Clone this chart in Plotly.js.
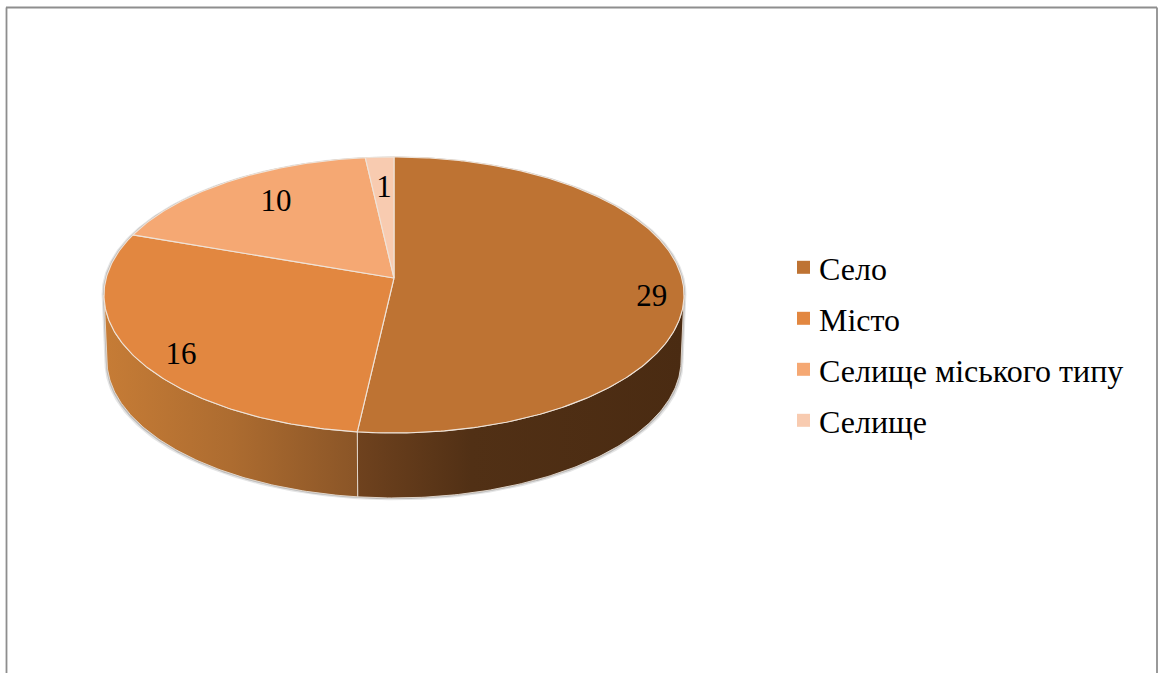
<!DOCTYPE html>
<html><head><meta charset="utf-8">
<script src="https://cdn.plot.ly/plotly-3.0.1.min.js"></script>
<style>html,body{margin:0;padding:0;background:#fff}#c{width:1159px;height:673px}</style>
</head><body><div id="c"></div>
<script>
const categories = ["Село", "Місто", "Селище міського типу", "Селище"];
const values = [29, 16, 10, 1];
const sliceColors = ["#BE7333", "#E28740", "#F5A873", "#F8CBB0"];
const labelFractions = [[0.89, 0.13], [0.867, 0.81], [0.652, 0.865], [0.62, 0.78]];

const W = 1159, H = 673;
// Perspective disc: apex at (CX, APEX_Y), foreshortening K
const CX = 394, APEX_Y = 278, A = 287.8, B = 135.9, K = 0.123, DEPTH = 65, BOTTOM_SCALE = 0.99;
const LABEL_CY = 295, LABEL_RX = 290, LABEL_RY = 138, LABEL_DY = 2;
const SERIF = '"Liberation Serif", serif';
const EDGE = "#EFE3D8";
const rad = d => d * Math.PI / 180;

const total = values.reduce((a, b) => a + b, 0);
const px = d => CX + A * Math.sin(rad(d)) / (1 + K * Math.cos(rad(d)));
const py = d => APEX_Y - B * Math.cos(rad(d)) / (1 + K * Math.cos(rad(d)));
const bx = d => CX + (px(d) - CX) * BOTTOM_SCALE;
const by = d => py(d) + DEPTH;

function sweep(from, to, fx, fy) {
  const n = Math.max(2, Math.ceil(Math.abs(to - from) * 1.5));
  const xs = [], ys = [];
  for (let i = 0; i <= n; i++) {
    const d = from + (to - from) * i / n;
    xs.push(fx(d)); ys.push(fy(d));
  }
  return [xs, ys];
}

const bounds = [0];
values.forEach(v => bounds.push(bounds[bounds.length - 1] + v / total * 360));

const traces = [];

// silhouette tangent angles on the disc
const TANGENT_R = 90 + Math.asin(K) * 180 / Math.PI, TANGENT_L = 360 - TANGENT_R;

// soft shadow around the silhouette
[[2.4, 0.10], [1.2, 0.18]].forEach(([g, alpha]) => {
  const f = 1 + g / 290;
  const [tx, ty] = sweep(TANGENT_L, TANGENT_R + 360, d => CX + (px(d) - CX) * f, d => py(d) - g * 0.3);
  const [lx, ly] = sweep(TANGENT_R, TANGENT_L, d => CX + (bx(d) - CX) * f, d => by(d) + g);
  traces.push({x: tx.concat(lx, [tx[0]]), y: ty.concat(ly, [ty[0]]), mode: "lines", fill: "toself",
    fillcolor: `rgba(0,0,0,${alpha})`, line: {width: 0}, showlegend: false, hoverinfo: "skip"});
});

// side walls
function wall(from, to, scale) {
  const [tx, ty] = sweep(from, to, px, py);
  const [lx, ly] = sweep(to, from, bx, by);
  traces.push({x: tx.concat(lx, [tx[0]]), y: ty.concat(ly, [ty[0]]), mode: "lines", fill: "toself",
    fillgradient: {type: "horizontal", colorscale: scale},
    line: {color: "#E6DCD2", width: 0.9}, showlegend: false, hoverinfo: "skip"});
}
wall(TANGENT_R, bounds[1], [[0, "#6F421E"], [0.35, "#513015"], [1, "#4A2B12"]]);
wall(bounds[1], TANGENT_L, [[0, "#C67C36"], [0.5, "#AD6C30"], [1, "#8A5527"]]);

// top slices
values.forEach((v, i) => {
  const [ax, ay] = sweep(bounds[i], bounds[i + 1], px, py);
  traces.push({x: [CX].concat(ax, [CX]), y: [APEX_Y].concat(ay, [APEX_Y]), mode: "lines", fill: "toself",
    fillcolor: sliceColors[i], line: {color: EDGE, width: 1.1}, showlegend: false, hoverinfo: "skip"});
});

// value labels
traces.push({
  x: values.map((v, i) => CX + LABEL_RX * labelFractions[i][0] * Math.sin(rad((bounds[i] + bounds[i + 1]) / 2))),
  y: values.map((v, i) => LABEL_CY + LABEL_DY - LABEL_RY * labelFractions[i][1] * Math.cos(rad((bounds[i] + bounds[i + 1]) / 2))),
  text: values.map(String), mode: "text", textposition: "middle center",
  textfont: {family: SERIF, size: 31, color: "#000"}, showlegend: false, hoverinfo: "skip"
});

// legend entries
categories.forEach((c, i) => traces.push({
  x: [null], y: [null], name: c, mode: "markers", legendgroup: "g" + i,
  marker: {symbol: "square", size: 13, color: sliceColors[i]}
}));

const layout = {
  width: W, height: H, margin: {l: 0, r: 0, t: 0, b: 0},
  paper_bgcolor: "#fff", plot_bgcolor: "#fff",
  xaxis: {range: [0, W], visible: false, fixedrange: true},
  yaxis: {range: [H, 0], visible: false, fixedrange: true},
  legend: {x: 779 / W, y: 1 - 240 / H, xanchor: "left", yanchor: "top", bgcolor: "rgba(0,0,0,0)",
    font: {family: SERIF, size: 32, color: "#000"}, tracegroupgap: 6.4, itemwidth: 30, traceorder: "grouped"},
  shapes: [
    {type: "line", xref: "paper", yref: "paper", x0: 6.5 / W, x1: 6.5 / W, y0: 0, y1: 1 - 7.5 / H, line: {color: "#8E8E8E", width: 1.8}},
    {type: "line", xref: "paper", yref: "paper", x0: 6 / W, x1: 1157 / W, y0: 1 - 7.5 / H, y1: 1 - 7.5 / H, line: {color: "#8E8E8E", width: 1.8}},
    {type: "line", xref: "paper", yref: "paper", x0: 1157 / W, x1: 1157 / W, y0: 0, y1: 1 - 7.5 / H, line: {color: "#8E8E8E", width: 1.8}}
  ]
};
Plotly.newPlot("c", traces, layout, {displayModeBar: false, staticPlot: true}).then(() => {
  document.querySelectorAll("#c .legendpoints").forEach(g => g.setAttribute("transform", "translate(4.5,0)"));
});
</script></body></html>
